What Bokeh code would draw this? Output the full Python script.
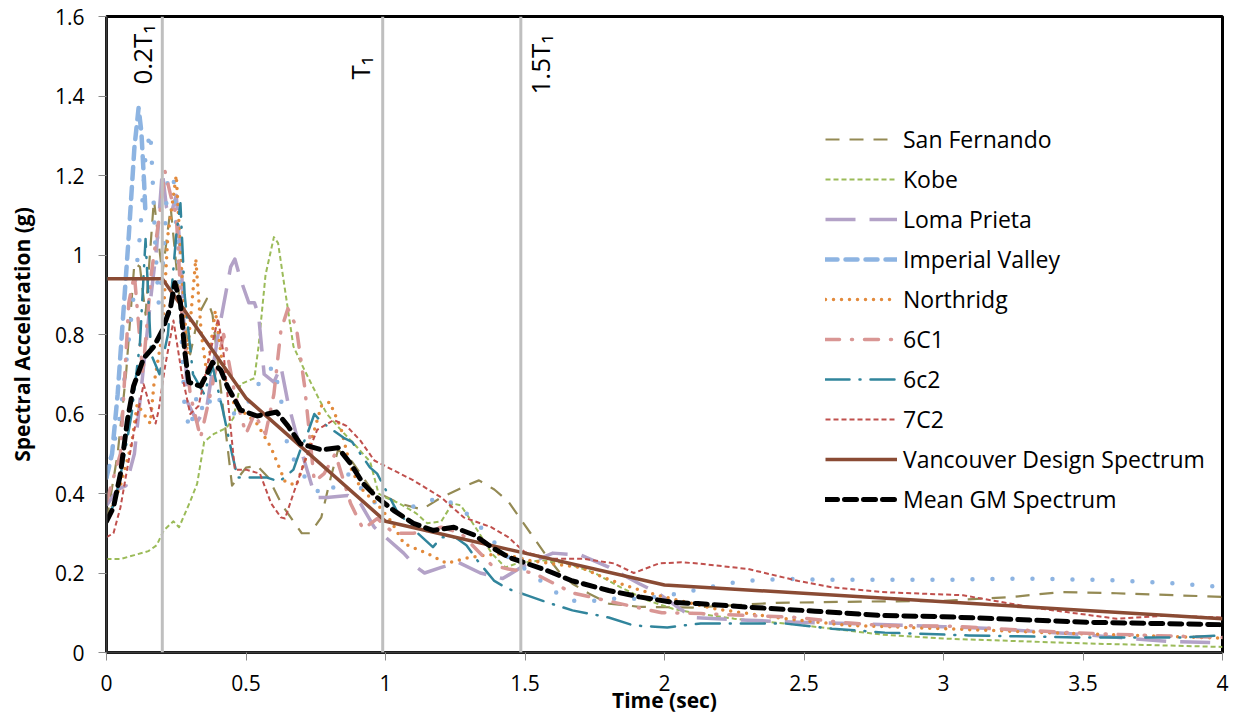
from math import pi
from bokeh.plotting import figure
from bokeh.models import Range1d, FixedTicker, CustomJSTickFormatter, Span, Legend, LegendItem
from bokeh.core.properties import value
from bokeh.embed import file_html
from bokeh.resources import INLINE

# ---------------- data ----------------
x_ticks = [0, 0.5, 1, 1.5, 2, 2.5, 3, 3.5, 4]
y_ticks = [0, 0.2, 0.4, 0.6, 0.8, 1.0, 1.2, 1.4, 1.6]

period_lines = [0.2, 0.99, 1.485]
period_labels = ["0.2T\u2081", "T\u2081", "1.5T\u2081"]

san_fernando_x = [0, 0.04, 0.07, 0.1, 0.12, 0.14, 0.17, 0.2, 0.23, 0.26, 0.3, 0.33, 0.36, 0.38, 0.42, 0.45, 0.5, 0.54, 0.58, 0.63, 0.7, 0.73, 0.77, 0.8, 0.83, 0.88, 0.95, 1.05, 1.13, 1.2, 1.29, 1.335, 1.39, 1.44, 1.48, 1.52, 1.57, 1.62, 1.67, 1.73, 1.8, 1.91, 2.1, 2.4, 2.7, 3.0, 3.25, 3.42, 3.62, 4.0]
san_fernando_y = [0.33, 0.5, 0.7, 0.98, 0.97, 0.85, 1.14, 0.95, 1.12, 0.9, 0.75, 0.85, 0.89, 0.85, 0.6, 0.42, 0.465, 0.47, 0.44, 0.37, 0.3, 0.3, 0.34, 0.43, 0.51, 0.48, 0.41, 0.375, 0.36, 0.39, 0.42, 0.433, 0.41, 0.38, 0.34, 0.30, 0.25, 0.205, 0.173, 0.148, 0.123, 0.115, 0.113, 0.125, 0.128, 0.13, 0.14, 0.152, 0.149, 0.14]

kobe_x = [0, 0.05, 0.1, 0.15, 0.18, 0.205, 0.24, 0.26, 0.3, 0.325, 0.35, 0.385, 0.43, 0.455, 0.48, 0.53, 0.545, 0.57, 0.6, 0.615, 0.635, 0.67, 0.71, 0.76, 0.79, 0.84, 0.9, 0.945, 0.975, 1.0, 1.05, 1.11, 1.15, 1.2, 1.24, 1.27, 1.33, 1.38, 1.43, 1.47, 1.56, 1.65, 1.75, 1.84, 1.94, 2.03, 2.1, 2.25, 2.5, 2.78, 3.0, 3.5, 4.0]
kobe_y = [0.235, 0.235, 0.245, 0.255, 0.27, 0.307, 0.33, 0.315, 0.38, 0.425, 0.53, 0.55, 0.565, 0.59, 0.675, 0.69, 0.77, 0.95, 1.045, 1.03, 0.935, 0.77, 0.71, 0.64, 0.60, 0.56, 0.515, 0.48, 0.40, 0.39, 0.375, 0.35, 0.325, 0.33, 0.375, 0.37, 0.307, 0.25, 0.214, 0.224, 0.232, 0.224, 0.2, 0.165, 0.131, 0.11, 0.1, 0.085, 0.068, 0.045, 0.035, 0.023, 0.014]

loma_x = [0, 0.04, 0.07, 0.1, 0.13, 0.16, 0.18, 0.2, 0.215, 0.23, 0.25, 0.27, 0.29, 0.325, 0.36, 0.4, 0.445, 0.46, 0.48, 0.51, 0.53, 0.545, 0.565, 0.6, 0.625, 0.65, 0.68, 0.74, 0.76, 0.79, 0.865, 0.91, 0.96, 1.0, 1.065, 1.11, 1.14, 1.2, 1.26, 1.34, 1.42, 1.5, 1.6, 1.7, 1.8, 1.91, 1.98, 2.1, 2.24, 2.48, 2.66, 3.0, 3.18, 3.5, 3.8, 4.0]
loma_y = [0.37, 0.41, 0.42, 0.5, 0.7, 0.9, 1.02, 1.21, 1.12, 1.1, 1.15, 0.95, 0.63, 0.58, 0.62, 0.8, 0.97, 0.99, 0.94, 0.88, 0.88, 0.85, 0.70, 0.68, 0.72, 0.63, 0.55, 0.41, 0.39, 0.39, 0.395, 0.375, 0.315, 0.29, 0.25, 0.215, 0.2, 0.214, 0.227, 0.2, 0.186, 0.22, 0.25, 0.245, 0.215, 0.173, 0.148, 0.088, 0.083, 0.076, 0.073, 0.065, 0.06, 0.045, 0.028, 0.024]

imperial_x = [0, 0.02, 0.04, 0.06, 0.08, 0.1, 0.115, 0.125, 0.135, 0.14]
imperial_y = [0.44, 0.5, 0.65, 0.85, 1.05, 1.27, 1.37, 1.31, 1.18, 1.1]

imperial_b_x = [0, 0.05, 0.09, 0.12, 0.14, 0.157, 0.165, 0.175, 0.187, 0.2, 0.22, 0.24, 0.26, 0.28, 0.3, 0.325, 0.35, 0.385, 0.42, 0.46, 0.5, 0.565, 0.6, 0.63, 0.65, 0.73, 0.78, 0.87, 0.95, 1.05, 1.12, 1.19, 1.26, 1.32, 1.37, 1.42, 1.48, 1.54, 1.6, 1.67, 1.75, 1.82, 1.9, 1.97, 2.05, 2.13, 2.2, 2.28, 2.43, 2.6, 3.0, 3.3, 3.6, 3.8, 4.0]
imperial_b_y = [0.44, 0.6, 0.85, 1.05, 1.25, 1.31, 1.2, 1.02, 0.88, 0.95, 1.2, 1.2, 0.95, 0.61, 0.56, 0.65, 0.6, 0.655, 0.62, 0.6, 0.62, 0.70, 0.72, 0.62, 0.51, 0.42, 0.395, 0.45, 0.38, 0.36, 0.37, 0.39, 0.37, 0.33, 0.295, 0.25, 0.22, 0.19, 0.155, 0.13, 0.13, 0.135, 0.135, 0.14, 0.148, 0.16, 0.17, 0.18, 0.185, 0.183, 0.183, 0.186, 0.182, 0.175, 0.165]

northridg_x = [0, 0.05, 0.09, 0.11, 0.157, 0.17, 0.2, 0.22, 0.25, 0.27, 0.29, 0.32, 0.34, 0.36, 0.39, 0.42, 0.46, 0.5, 0.54, 0.59, 0.64, 0.68, 0.72, 0.77, 0.8, 0.84, 0.875, 0.91, 0.98, 1.02, 1.066, 1.15, 1.22, 1.28, 1.35, 1.42, 1.51, 1.59, 1.7, 1.78, 1.88, 1.98, 2.18, 2.42, 2.66, 3.0, 3.45, 4.0]
northridg_y = [0.33, 0.42, 0.525, 0.625, 0.576, 0.675, 0.8, 1.05, 1.2, 0.95, 0.75, 0.99, 0.8, 0.7, 0.86, 0.7, 0.62, 0.6, 0.575, 0.515, 0.43, 0.42, 0.5, 0.62, 0.63, 0.565, 0.465, 0.415, 0.365, 0.33, 0.274, 0.249, 0.224, 0.236, 0.244, 0.249, 0.232, 0.224, 0.214, 0.189, 0.164, 0.143, 0.11, 0.086, 0.068, 0.06, 0.048, 0.036]

c6c1_x = [0, 0.05, 0.08, 0.1, 0.13, 0.16, 0.19, 0.21, 0.23, 0.25, 0.27, 0.3, 0.337, 0.385, 0.42, 0.46, 0.5, 0.53, 0.57, 0.6, 0.625, 0.65, 0.68, 0.71, 0.745, 0.78, 0.82, 0.875, 0.92, 0.97, 1.03, 1.1, 1.2, 1.27, 1.38, 1.44, 1.53, 1.67, 1.82, 1.99, 2.13, 2.3, 2.48, 2.63, 2.78, 3.03, 3.45, 3.73, 4.0]
c6c1_y = [0.38, 0.5, 0.88, 0.95, 0.7, 0.95, 1.1, 1.21, 1.15, 1.1, 0.85, 0.65, 0.54, 0.69, 0.8, 0.65, 0.55, 0.6, 0.55, 0.65, 0.81, 0.865, 0.82, 0.67, 0.43, 0.45, 0.5, 0.375, 0.31, 0.337, 0.3, 0.3, 0.315, 0.3, 0.22, 0.21, 0.2, 0.15, 0.126, 0.1, 0.098, 0.093, 0.088, 0.076, 0.068, 0.066, 0.05, 0.043, 0.038]

c6c2_x = [0, 0.03, 0.06, 0.09, 0.12, 0.14, 0.16, 0.19, 0.22, 0.25, 0.265, 0.28, 0.31, 0.35, 0.38, 0.42, 0.45, 0.47, 0.5, 0.575, 0.62, 0.67, 0.695, 0.72, 0.745, 0.77, 0.81, 0.85, 0.88, 0.945, 0.97, 1.04, 1.1, 1.17, 1.2, 1.25, 1.29, 1.33, 1.39, 1.44, 1.51, 1.58, 1.67, 1.8, 1.89, 2.01, 2.13, 2.25, 2.43, 2.6, 2.79, 3.09, 3.48, 3.86, 4.0]
c6c2_y = [0.33, 0.38, 0.48, 0.6, 0.78, 1.04, 0.75, 0.7, 0.8, 1.05, 1.13, 0.9, 0.7, 0.65, 0.72, 0.6, 0.5, 0.44, 0.44, 0.44, 0.43, 0.46, 0.51, 0.55, 0.6, 0.58, 0.56, 0.54, 0.53, 0.465, 0.45, 0.357, 0.31, 0.265, 0.29, 0.29, 0.27, 0.231, 0.18, 0.16, 0.143, 0.126, 0.106, 0.088, 0.068, 0.063, 0.073, 0.073, 0.073, 0.06, 0.05, 0.043, 0.038, 0.038, 0.043]

c7c2_x = [0, 0.025, 0.05, 0.075, 0.097, 0.133, 0.157, 0.176, 0.187, 0.21, 0.24, 0.27, 0.3, 0.33, 0.37, 0.4, 0.42, 0.44, 0.46, 0.5, 0.55, 0.59, 0.625, 0.64, 0.67, 0.71, 0.755, 0.815, 0.86, 0.91, 0.96, 1.03, 1.1, 1.2, 1.28, 1.38, 1.44, 1.5, 1.59, 1.71, 1.82, 1.89, 1.98, 2.06, 2.12, 2.3, 2.48, 2.6, 2.78, 3.07, 3.32, 3.62, 3.8, 4.0]
c7c2_y = [0.29, 0.3, 0.365, 0.465, 0.55, 0.675, 0.617, 0.576, 0.61, 0.72, 0.835, 0.7, 0.6, 0.62, 0.75, 0.84, 0.75, 0.6, 0.46, 0.46, 0.45, 0.375, 0.34, 0.337, 0.4, 0.48, 0.56, 0.585, 0.57, 0.533, 0.483, 0.458, 0.433, 0.39, 0.34, 0.315, 0.29, 0.252, 0.236, 0.236, 0.224, 0.2, 0.224, 0.227, 0.224, 0.21, 0.18, 0.164, 0.152, 0.144, 0.113, 0.085, 0.093, 0.088]

design_x = [0, 0.2, 0.5, 1.0, 2.0, 4.0]
design_y = [0.94, 0.94, 0.64, 0.33, 0.17, 0.085]

mean_x = [0, 0.025, 0.05, 0.075, 0.097, 0.133, 0.17, 0.2, 0.23, 0.245, 0.265, 0.28, 0.295, 0.337, 0.36, 0.38, 0.41, 0.433, 0.48, 0.54, 0.61, 0.65, 0.695, 0.77, 0.83, 0.875, 0.92, 0.97, 1.03, 1.1, 1.17, 1.245, 1.32, 1.38, 1.44, 1.51, 1.58, 1.67, 1.8, 1.91, 2.03, 2.12, 2.3, 2.54, 2.78, 3.0, 3.52, 4.0]
mean_y = [0.33, 0.365, 0.45, 0.585, 0.67, 0.74, 0.77, 0.81, 0.87, 0.93, 0.88, 0.76, 0.68, 0.67, 0.7, 0.73, 0.71, 0.67, 0.61, 0.595, 0.605, 0.57, 0.525, 0.51, 0.515, 0.475, 0.425, 0.39, 0.357, 0.325, 0.307, 0.315, 0.295, 0.265, 0.24, 0.223, 0.206, 0.18, 0.156, 0.14, 0.126, 0.123, 0.114, 0.104, 0.093, 0.09, 0.076, 0.07]

FONT = "Open Sans"

p = figure(width=1237, height=719, x_range=Range1d(0, 4), y_range=Range1d(0, 1.6),
           output_backend="svg", toolbar_location=None,
           min_border_left=106, min_border_right=15, min_border_top=16, min_border_bottom=67)
p.xgrid.visible = False
p.ygrid.visible = False
p.outline_line_color = "black"
p.outline_line_width = 3
p.background_fill_color = "white"
p.border_fill_color = "white"

fmt = "return String(Math.round(tick*10)/10)"
p.xaxis.ticker = FixedTicker(ticks=x_ticks)
p.yaxis.ticker = FixedTicker(ticks=y_ticks)
p.xaxis.formatter = CustomJSTickFormatter(code=fmt)
p.yaxis.formatter = CustomJSTickFormatter(code=fmt)
for ax in (p.xaxis, p.yaxis):
    ax.axis_line_color = "#3a3a3a"
    ax.axis_line_width = 2
    ax.major_tick_line_color = "#8a8a8a"
    ax.major_tick_out = 8
    ax.major_tick_in = 0
    ax.minor_tick_line_color = None
    ax.major_label_text_font = FONT
    ax.major_label_text_font_size = "21px"
    ax.major_label_text_color = "black"
    ax.axis_label_text_font = FONT
    ax.axis_label_text_font_style = "bold"
    ax.axis_label_text_font_size = "21px"
    ax.axis_label_text_color = "black"
p.xaxis.axis_label = "Time (sec)"
p.yaxis.axis_label = "Spectral Acceleration (g)"
p.xaxis.major_label_standoff = 14
p.xaxis.axis_label_standoff = -8
p.yaxis.major_label_standoff = 14
p.yaxis.axis_label_standoff = 16

series = [
    ("San Fernando", san_fernando_x, san_fernando_y, "#948A54", 2.2, "14 10", "butt"),
    ("Kobe", kobe_x, kobe_y, "#9BBB59", 2, "5 3", "butt"),
    ("Loma Prieta", loma_x, loma_y, "#B3A2C7", 3.5, "30 14", "butt"),
    ("Imperial Valley", imperial_x, imperial_y, "#8DB4E2", 4.5, "12 8", "round"),
    (None, imperial_b_x, imperial_b_y, "#8DB4E2", 4.5, "0 20", "round"),
    ("Northridg", northridg_x, northridg_y, "#E28A3C", 3.5, "0 8", "round"),
    ("6C1", c6c1_x, c6c1_y, "#D99694", 3.5, "14 12 1 12", "round"),
    ("6c2", c6c2_x, c6c2_y, "#31859C", 2.5, "24 10 1 10", "round"),
    ("7C2", c7c2_x, c7c2_y, "#C0504D", 2, "5 3", "butt"),
    ("Vancouver Design Spectrum", design_x, design_y, "#8A4B34", 3.5, "solid", "butt"),
    ("Mean GM Spectrum", mean_x, mean_y, "black", 5, "12 7", "round"),
]

items = []
for name, xs, ys, color, w, dash, cap in series:
    r = p.line(xs, ys, line_color=color, line_width=w, line_dash=dash, line_cap=cap, line_join="round")
    if name:
        items.append(LegendItem(label=name, renderers=[r]))

for loc in period_lines:
    p.add_layout(Span(location=loc, dimension="height", line_color="#BFBFBF", line_width=3))

p.text(x=period_lines, y=[1.6, 1.6, 1.6], text=period_labels, angle=pi / 2,
       x_offset=[-20, -23, 19], y_offset=[68, 63, 78],
       text_align="left", text_baseline="middle",
       text_font=value(FONT), text_font_size="26px", text_color="black")

legend = Legend(items=items, location=(719, 136), glyph_width=72, glyph_height=34,
                label_height=34, spacing=6, padding=0, margin=0, label_standoff=6,
                background_fill_alpha=0, border_line_alpha=0,
                label_text_font=FONT, label_text_font_size="23px", label_text_color="black")
p.add_layout(legend)

open("out.html", "w").write(file_html(p, INLINE))
